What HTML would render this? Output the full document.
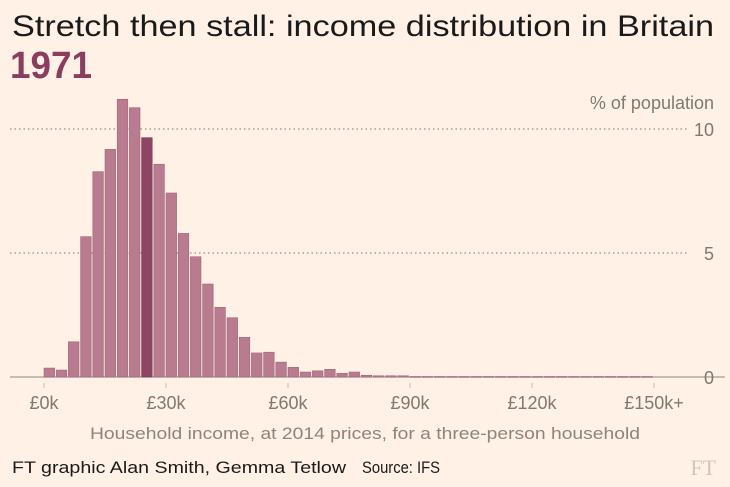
<!DOCTYPE html>
<html><head><meta charset="utf-8"><style>
html,body{margin:0;padding:0;background:#fff1e5;}
svg{display:block;font-family:"Liberation Sans Narrow","Liberation Sans",sans-serif;}
</style></head><body>
<svg id="chart" width="730" height="487" viewBox="0 0 730 487">
<rect width="730" height="487" fill="#fff1e5"/>
<text x="12" y="36" font-size="30" fill="#1a1a1a" textLength="702" lengthAdjust="spacingAndGlyphs">Stretch then stall: income distribution in Britain</text>
<text x="10" y="78" font-size="38" font-weight="bold" fill="#8a3d5e" textLength="82" lengthAdjust="spacingAndGlyphs">1971</text>
<text x="714" y="109" font-size="18" fill="#807970" text-anchor="end">% of population</text>
<g id="grid"></g><g id="bars"></g><g id="xaxis"></g>
<text x="90" y="439" font-size="17" fill="#8d857c" textLength="550" lengthAdjust="spacingAndGlyphs">Household income, at 2014 prices, for a three-person household</text>
<text x="12" y="473" font-size="17" fill="#1a1a1a" textLength="334" lengthAdjust="spacingAndGlyphs">FT graphic Alan Smith, Gemma Tetlow</text>
<text x="362" y="473" font-size="17" fill="#1a1a1a" textLength="78" lengthAdjust="spacingAndGlyphs">Source: IFS</text>
<text x="716" y="475" font-size="22" fill="#cfc6bc" text-anchor="end" font-family="Liberation Serif,serif">FT</text>
</svg>
<script>
const values=[0.36,0.28,1.42,5.66,8.28,9.18,11.2,10.86,9.65,8.58,7.42,5.79,4.85,3.75,2.81,2.39,1.6,0.97,1.0,0.6,0.39,0.2,0.25,0.31,0.15,0.2,0.07,0.05,0.05,0.05,0.02,0.02,0.02,0.02,0.02,0.02,0.02,0.02,0.02,0.02,0.02,0.02,0.02,0.02,0.02,0.02,0.02,0.02,0.02,0.02];
const highlightIndex=8;
const yTicks=[0,5,10];
const xTickValues=[0,30,60,90,120,150];
const xTickLabels=["£0k","£30k","£60k","£90k","£120k","£150k+"];
const binWidthK=3;
const NS="http://www.w3.org/2000/svg";
const x=k=>44+k*(122/30);
const y=v=>377-v*24.8;
const grid=document.getElementById('grid'),bars=document.getElementById('bars'),xa=document.getElementById('xaxis');
yTicks.forEach(t=>{
 const l=document.createElementNS(NS,'line');
 l.setAttribute('x1',10);l.setAttribute('x2',t===0?725:688);l.setAttribute('y1',y(t));l.setAttribute('y2',y(t));
 l.setAttribute('stroke','#a59d94');l.setAttribute('stroke-width',t===0?1.2:1.5);
 if(t!==0)l.setAttribute('stroke-dasharray','1.5,3');
 
 
 grid.appendChild(l);
 const tx=document.createElementNS(NS,'text');
 tx.setAttribute('x',714);tx.setAttribute('y',y(t)+7);tx.setAttribute('text-anchor','end');
 tx.setAttribute('font-size','18');tx.setAttribute('fill','#807970');tx.textContent=t;
 
 
 grid.appendChild(tx);
});
values.forEach((v,i)=>{
 const r=document.createElementNS(NS,'rect');
 const x0=x(i*binWidthK),w=x((i+1)*binWidthK)-x0-1.6;
 r.setAttribute('x',x0);r.setAttribute('width',w);r.setAttribute('y',y(v));r.setAttribute('height',Math.max(y(0)-y(v),0.8));
 r.setAttribute('fill',i===highlightIndex?'#8e4563':'#b87b8f');
 r.setAttribute('stroke',i===highlightIndex?'#7a3652':'#a0687b');r.setAttribute('stroke-width','0.6');
 
 
 bars.appendChild(r);
});
xTickValues.forEach((k,i)=>{
 const l=document.createElementNS(NS,'line');
 l.setAttribute('x1',x(k));l.setAttribute('x2',x(k));l.setAttribute('y1',383);l.setAttribute('y2',388);
 l.setAttribute('stroke','#c4bcb2');
 
 
 xa.appendChild(l);
 const tx=document.createElementNS(NS,'text');
 tx.setAttribute('x',x(k));tx.setAttribute('y',409);tx.setAttribute('text-anchor','middle');
 tx.setAttribute('font-size','18');tx.setAttribute('fill','#807970');tx.textContent=xTickLabels[i];
 
 
 xa.appendChild(tx);
});
</script>
</body></html>
